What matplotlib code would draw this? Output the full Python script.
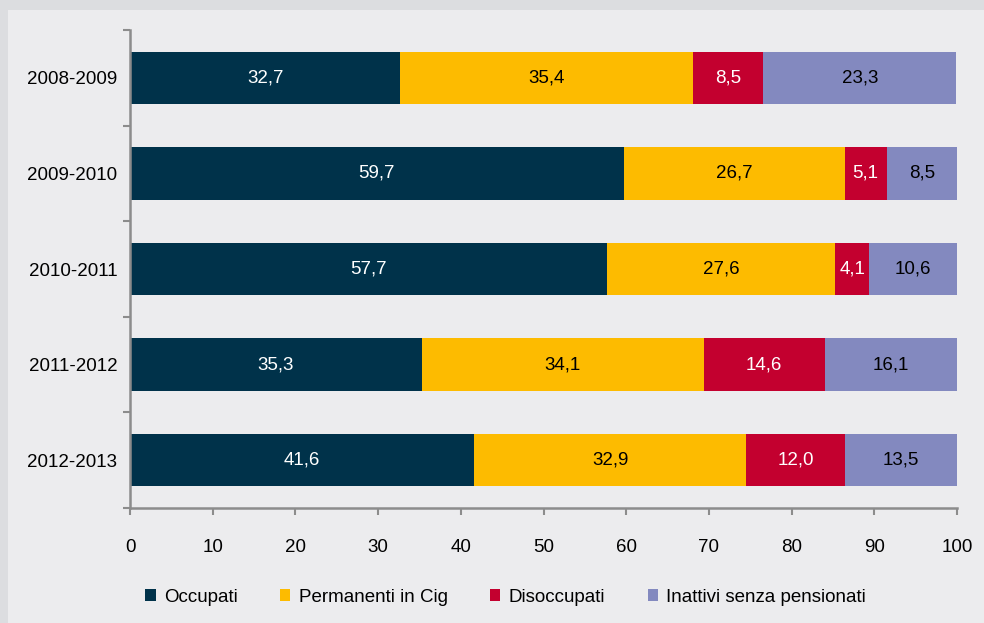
import matplotlib.pyplot as plt
from matplotlib.patches import Rectangle, Patch
import numpy as np

plt.rcParams['font.family'] = ['Liberation Sans', 'DejaVu Sans']

periods = ["2008-2009", "2009-2010", "2010-2011", "2011-2012", "2012-2013"]
series_names = ["Occupati", "Permanenti in Cig", "Disoccupati", "Inattivi senza pensionati"]
occupati = [32.7, 59.7, 57.7, 35.3, 41.6]
permanenti = [35.4, 26.7, 27.6, 34.1, 32.9]
disoccupati = [8.5, 5.1, 4.1, 14.6, 12.0]
inattivi = [23.3, 8.5, 10.6, 16.1, 13.5]
x_ticks = [0, 10, 20, 30, 40, 50, 60, 70, 80, 90, 100]

colors = ["#00324a", "#fdbb00", "#c3002f", "#8389bf"]
text_colors = ["white", "black", "white", "black"]
FS = 13.5

fig = plt.figure(figsize=(9.84, 6.23), dpi=100, facecolor="#dcdde0")
# lighter inner panel (darker border only on top and left)
fig.patches.append(Rectangle((8 / 984, 0), 1, 1 - 10 / 623, transform=fig.transFigure,
                             facecolor="#ececee", edgecolor="none", zorder=-5))

ax = fig.add_axes([130 / 984, 1 - 508 / 623, 827 / 984, 478 / 623])
ax.set_facecolor("none")

y = np.arange(len(periods))
left = np.zeros(len(periods))
for vals, col, tcol in zip([occupati, permanenti, disoccupati, inattivi], colors, text_colors):
    vals = np.array(vals)
    ax.barh(y, vals, left=left, height=0.55, color=col, edgecolor="none")
    for yi, l, v in zip(y, left, vals):
        ax.text(l + v / 2, yi, f"{v:.1f}".replace(".", ","), ha="center", va="center",
                color=tcol, fontsize=FS)
    left += vals

ax.set_xlim(0, 100)
ax.set_ylim(len(periods) - 0.5, -0.5)
ax.set_xticks(x_ticks)
ax.set_xticklabels([str(t) for t in x_ticks])

# y ticks at category boundaries, labels centred on bars
ax.set_yticks(np.arange(-0.5, len(periods), 1.0))
ax.set_yticklabels([])
ax.set_yticks(y, minor=True)
ax.set_yticklabels(periods, minor=True)

for s in ["top", "right"]:
    ax.spines[s].set_visible(False)
for s in ["left", "bottom"]:
    ax.spines[s].set_color("#8c8c8c")
    ax.spines[s].set_linewidth(1.8)

ax.tick_params(axis="x", direction="out", length=5, width=1.5, color="#8c8c8c",
               labelsize=FS, pad=17, labelcolor="black")
ax.tick_params(axis="y", which="major", direction="out", length=5, width=1.5, color="#8c8c8c")
ax.tick_params(axis="y", which="minor", length=0, labelsize=FS, pad=9, labelcolor="black")

handles = [Patch(facecolor=c, edgecolor="none") for c in colors]
fig.legend(handles, series_names, loc="center", bbox_to_anchor=(0.514, 1 - 597 / 623),
           ncol=4, frameon=False, fontsize=FS, handlelength=0.55, handleheight=0.55,
           handletextpad=0.45, columnspacing=2.25)

fig.savefig("out.png", dpi=100, facecolor=fig.get_facecolor())
